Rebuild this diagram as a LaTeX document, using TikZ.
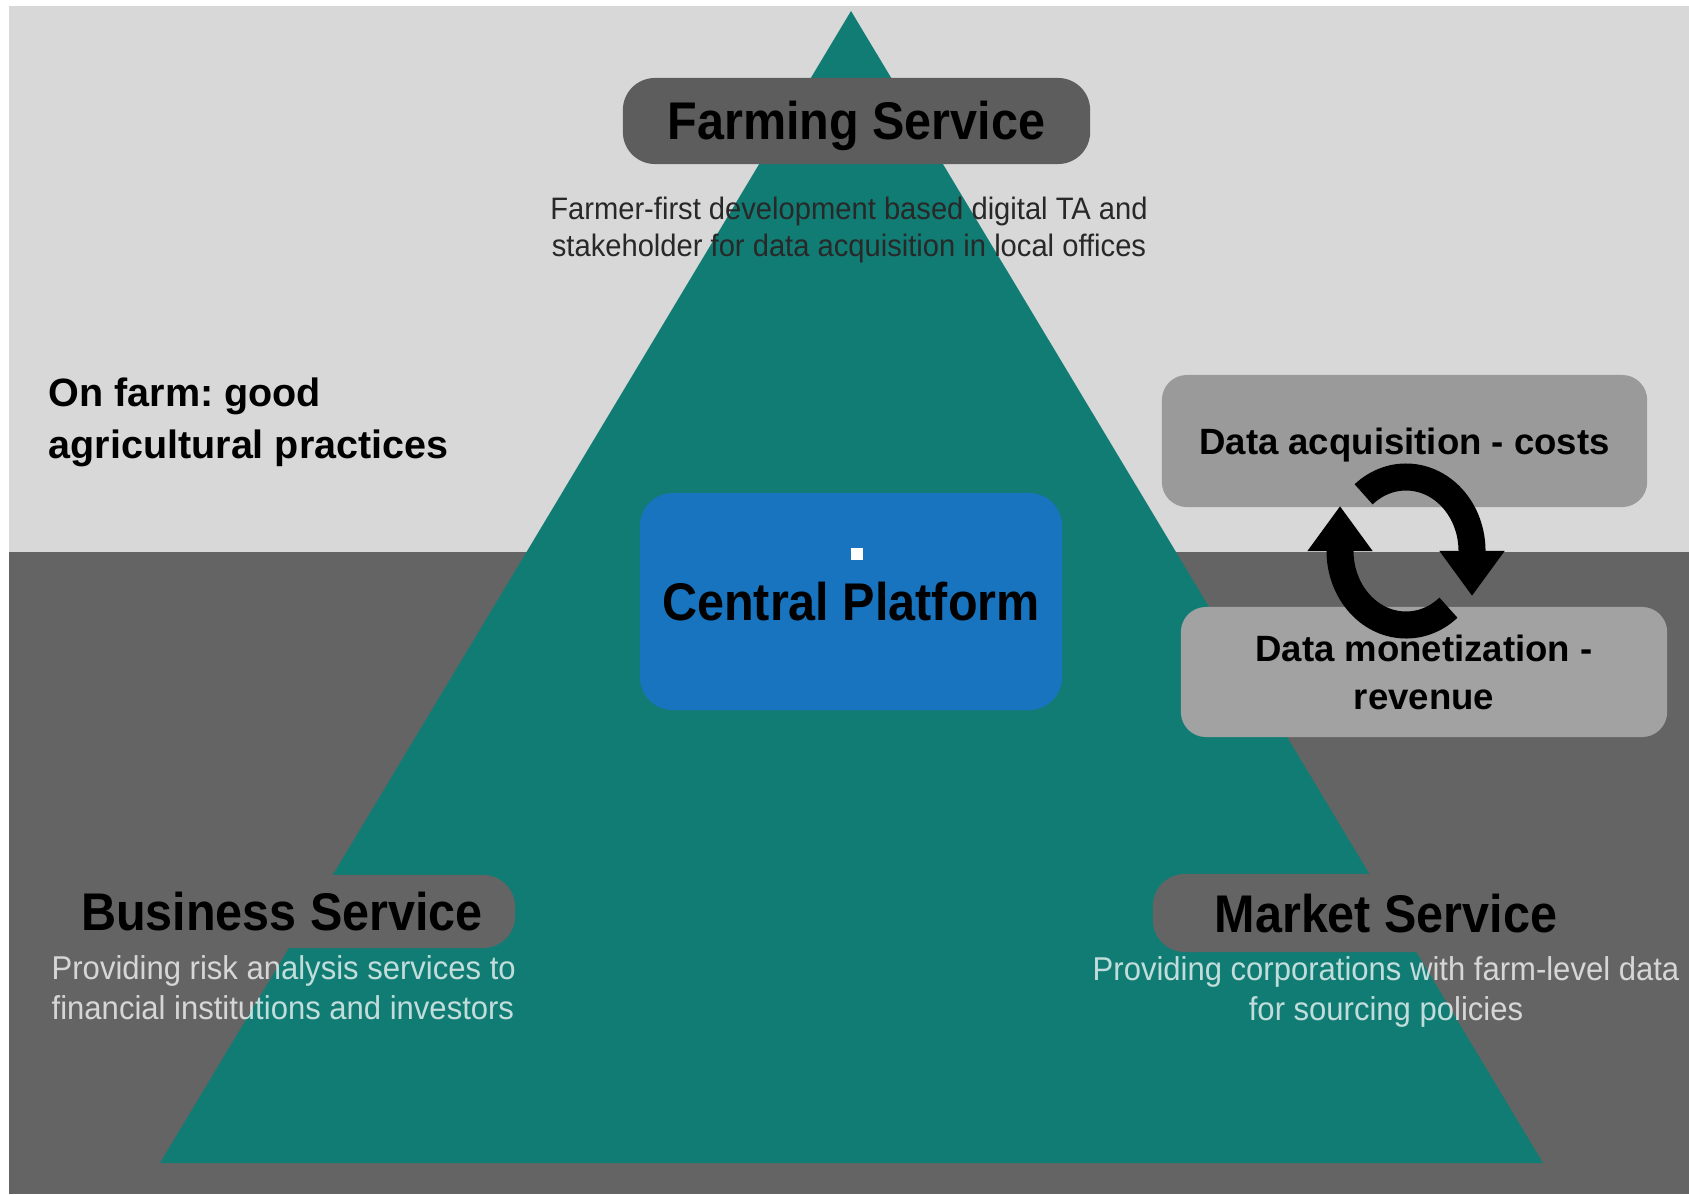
\documentclass[tikz,border=0pt]{standalone}
\usepackage{fontspec}
\setmainfont{Liberation Sans}
\newfontfamily\condfont[FakeStretch=0.915]{Liberation Sans}
\newfontfamily\subfont[FakeStretch=0.94]{Liberation Sans}
\usetikzlibrary{arrows.meta}
\definecolor{bglight}{RGB}{216,216,216}
\definecolor{bgdark}{RGB}{100,100,100}
\definecolor{pyrteal}{RGB}{17,124,116}
\definecolor{farmbox}{RGB}{93,93,93}
\definecolor{cpblue}{RGB}{24,116,190}
\definecolor{acqgray}{RGB}{154,154,154}
\definecolor{mongray}{RGB}{162,162,162}
\definecolor{subdark}{RGB}{40,40,40}
\frenchspacing
\begin{document}
\begin{tikzpicture}[x=0.01cm,y=0.01cm,
  titlebox/.style={rounded corners=0.32cm, inner sep=0pt, text=black,
    font=\condfont\bfseries\fontsize{15.08}{18}\selectfont,
    text height=10.8pt, text depth=0pt},
  databox/.style={rounded corners=0.25cm, inner sep=0pt, align=center, text=black,
    font=\bfseries\fontsize{10.4}{13.66}\selectfont},
  subtext/.style={inner sep=0pt, font=\subfont\fontsize{9.39}{11.38}\selectfont,
    text=white, text opacity=0.74},
  cycarrow/.style={line width=0.27cm, black, -{Triangle[width=0.62cm,length=0.45cm]}}]
\useasboundingbox (0,0) rectangle (1689,-1194);
% background
\fill[white] (0,0) rectangle (1689,-1194);
\fill[bglight] (9,-6) rectangle (1689,-552);
\fill[bgdark] (9,-552) rectangle (1689,-1194);
% pyramid
\fill[pyrteal] (851,-11) -- (160,-1163) -- (1543,-1163) -- cycle;
% boxes with titles
\node[titlebox, fill=farmbox, minimum width=4.67cm, minimum height=0.86cm] (farming) at (856.5,-121) {Farming Service};
\node[titlebox, fill=cpblue, rounded corners=0.33cm, minimum width=4.22cm, minimum height=2.17cm] (central) at (851,-601.5) {Central Platform};
\node[titlebox, fill=bgdark, minimum width=4.66cm, minimum height=0.73cm] (business) at (282,-911.5) {Business Service};
\node[titlebox, fill=bgdark, minimum width=4.66cm, minimum height=0.78cm] (market) at (1386,-913) {Market Service};
\node[databox, fill=acqgray, minimum width=4.85cm, minimum height=1.32cm, text height=7.45pt, text depth=0pt] (acq) at (1404.5,-441) {Data acquisition - costs};
\node[databox, fill=mongray, minimum width=4.86cm, minimum height=1.30cm] (mon) at (1424,-672) {Data monetization -\\revenue};
% free texts
\node[anchor=north west, inner sep=0pt, align=left, text=black,
  font=\bfseries\fontsize{11.24}{14.8}\selectfont] (onfarm) at (48,-377) {On farm: good\\agricultural practices};
\node[anchor=north, inner sep=0pt, align=center, text=subdark,
  font=\subfont\fontsize{8.82}{10.67}\selectfont] (farmsub) at (849,-196) {Farmer-first development based digital TA and\\stakeholder for data acquisition in local offices};
\node[subtext, anchor=north west, align=left] (bizsub) at (51,-955) {Providing risk analysis services to\\financial institutions and investors};
\node[subtext, anchor=north, align=center] (mktsub) at (1386,-956) {Providing corporations with farm-level data\\for sourcing policies};
% cycle arrows
\coordinate (cyc) at (1406,-551);
\draw[cycarrow] ([shift={(130:66 and 74)}]cyc) arc[start angle=130, end angle=0, x radius=66, y radius=74] -- ++(0,-45);
\draw[cycarrow] ([shift={(-50:66 and 74)}]cyc) arc[start angle=-50, end angle=-180, x radius=66, y radius=74] -- ++(0,45);
% small white mark
\node[fill=white, minimum size=0.12cm, inner sep=0pt] (dot) at (857,-554) {};
\end{tikzpicture}
\end{document}
